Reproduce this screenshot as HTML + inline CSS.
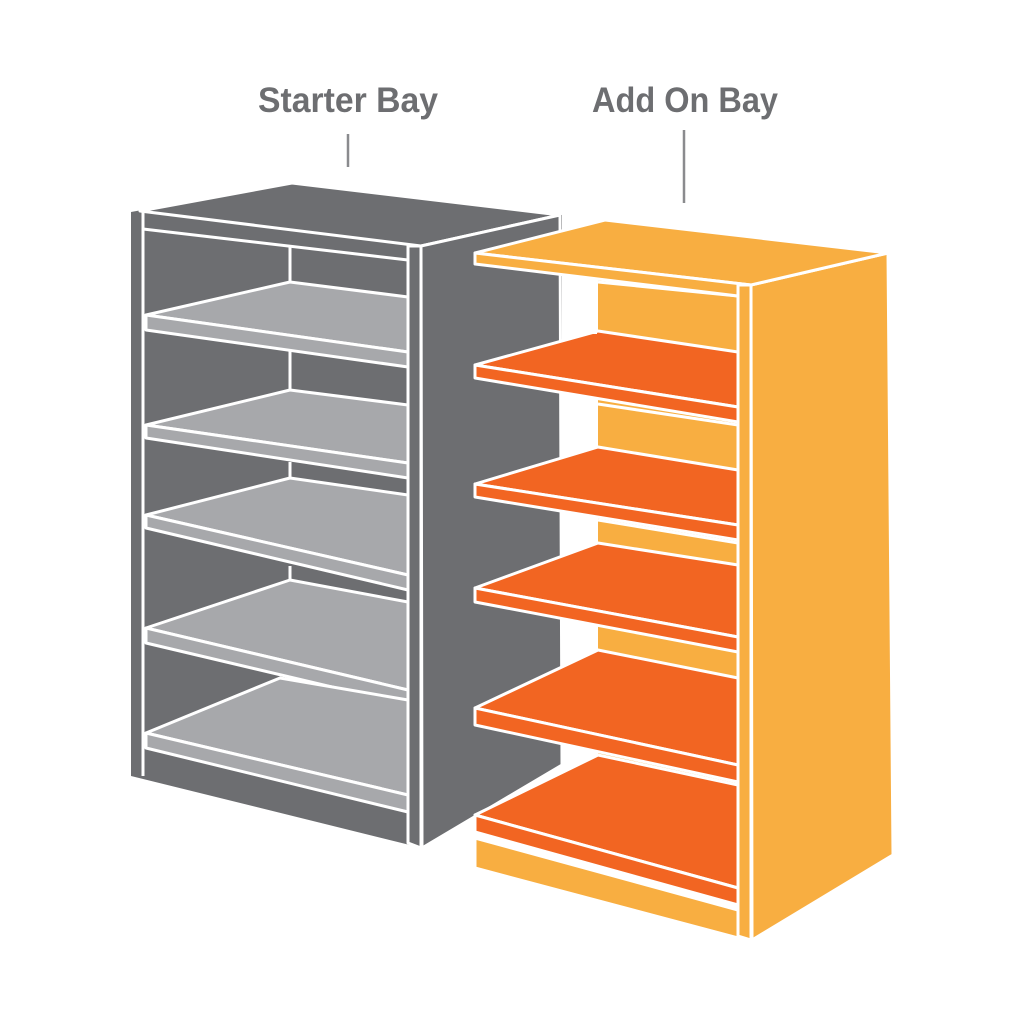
<!DOCTYPE html>
<html><head><meta charset="utf-8"><style>
html,body{margin:0;padding:0;background:#fff;}
svg{display:block}
text{font-family:"Liberation Sans",sans-serif;font-weight:bold;fill:#6d6e71}
</style></head><body>
<svg width="1024" height="1024" viewBox="0 0 1024 1024" xmlns="http://www.w3.org/2000/svg">
<rect width="1024" height="1024" fill="#fff"/>
<text x="258" y="112" font-size="35" textLength="180" lengthAdjust="spacingAndGlyphs">Starter Bay</text>
<text x="592" y="112" font-size="35" textLength="186" lengthAdjust="spacingAndGlyphs">Add On Bay</text>
<line x1="348" y1="134" x2="348" y2="167" stroke="#8a8b8e" stroke-width="2.5"/>
<line x1="684" y1="130" x2="684" y2="203" stroke="#8a8b8e" stroke-width="2.5"/>

<g stroke="#fff" stroke-width="3" stroke-linejoin="round">
<!-- GRAY BAY -->
<!-- back / interior -->
<polygon points="131,212 292,183 562,215 562,760 422,848 131,776" fill="#6d6e71" stroke="none"/>
<!-- top face -->
<polygon points="140,211 292,183 560,215 421,246" fill="#6d6e71"/>
<!-- right face -->
<polygon points="421,246 560,215 562,765 422,848" fill="#6d6e71"/>
<!-- left strip line -->
<line x1="143" y1="212" x2="143" y2="776"/>
<!-- top rail -->
<line x1="143" y1="229" x2="408" y2="260"/>
<!-- back vertical -->
<line x1="290" y1="246" x2="290" y2="282"/>
<line x1="290" y1="350" x2="290" y2="390"/>
<line x1="290" y1="462" x2="290" y2="478"/>
<line x1="290" y1="566" x2="290" y2="580"/>
<!-- shelves -->
<polygon points="146,315 290,282 408,297 408,352" fill="#a7a8ab"/>
<polygon points="146,315 408,352 408,367 146,330" fill="#a7a8ab"/>
<polygon points="146,425 290,390 408,405 408,463" fill="#a7a8ab"/>
<polygon points="146,425 408,463 408,478 146,438" fill="#a7a8ab"/>
<polygon points="146,515 290,478 408,495 408,575" fill="#a7a8ab"/>
<polygon points="146,515 408,575 408,590 146,528" fill="#a7a8ab"/>
<polygon points="146,628 290,580 408,602 408,690" fill="#a7a8ab"/>
<polygon points="146,628 408,690 408,705 146,643" fill="#a7a8ab"/>
<polygon points="146,733 280,678 408,700 408,795" fill="#a7a8ab"/>
<polygon points="146,733 408,795 408,812 146,748" fill="#a7a8ab"/>
<!-- front post -->
<polygon points="408,246 421,246 421,848 408,843" fill="#6d6e71"/>

<!-- ORANGE BAY -->
<!-- back panel -->
<polygon points="598,278 738,290 738,905 598,860" fill="#f8ae41" stroke="none"/>
<line x1="598" y1="282" x2="738" y2="296"/>
<!-- right face -->
<polygon points="751,285 888,253 893,855 752,940" fill="#f8ae41"/>
<!-- top -->
<polygon points="475,253 605,220 888,253 751,285" fill="#f8ae41"/>
<polygon points="475,253 751,285 738,285 738,296 475,264" fill="#f8ae41"/>
<!-- shelves -->
<polygon points="475,365 598,331 738,352 738,407" fill="#f26522"/>
<polygon points="475,365 738,407 738,422 475,378" fill="#f26522"/>
<line x1="598" y1="404" x2="738" y2="425"/>
<polygon points="475,484 598,447 738,470 738,525" fill="#f26522"/>
<polygon points="475,484 738,525 738,540 475,497" fill="#f26522"/>
<line x1="598" y1="520" x2="738" y2="543"/>
<polygon points="475,588 598,543 738,565 738,637" fill="#f26522"/>
<polygon points="475,588 738,637 738,652 475,602" fill="#f26522"/>
<polygon points="475,708 598,650 738,678 738,765" fill="#f26522"/>
<polygon points="475,708 738,765 738,782 475,725" fill="#f26522"/>
<polygon points="475,815 598,755 738,785 738,888" fill="#f26522"/>
<polygon points="475,815 738,888 738,905 475,832" fill="#f26522"/>
<!-- plinth -->
<polygon points="475,838 738,910 738,938 475,868" fill="#f8ae41"/>
<!-- front post -->
<polygon points="738,285 751,285 751,940 738,936" fill="#f8ae41"/>
</g>
<!-- white gap between bays -->
<rect x="563" y="300" width="34" height="34" fill="#fff"/>
<rect x="563" y="424" width="34" height="22" fill="#fff"/>
<rect x="563" y="542" width="34" height="0" fill="#fff"/>
</svg>
</body></html>
